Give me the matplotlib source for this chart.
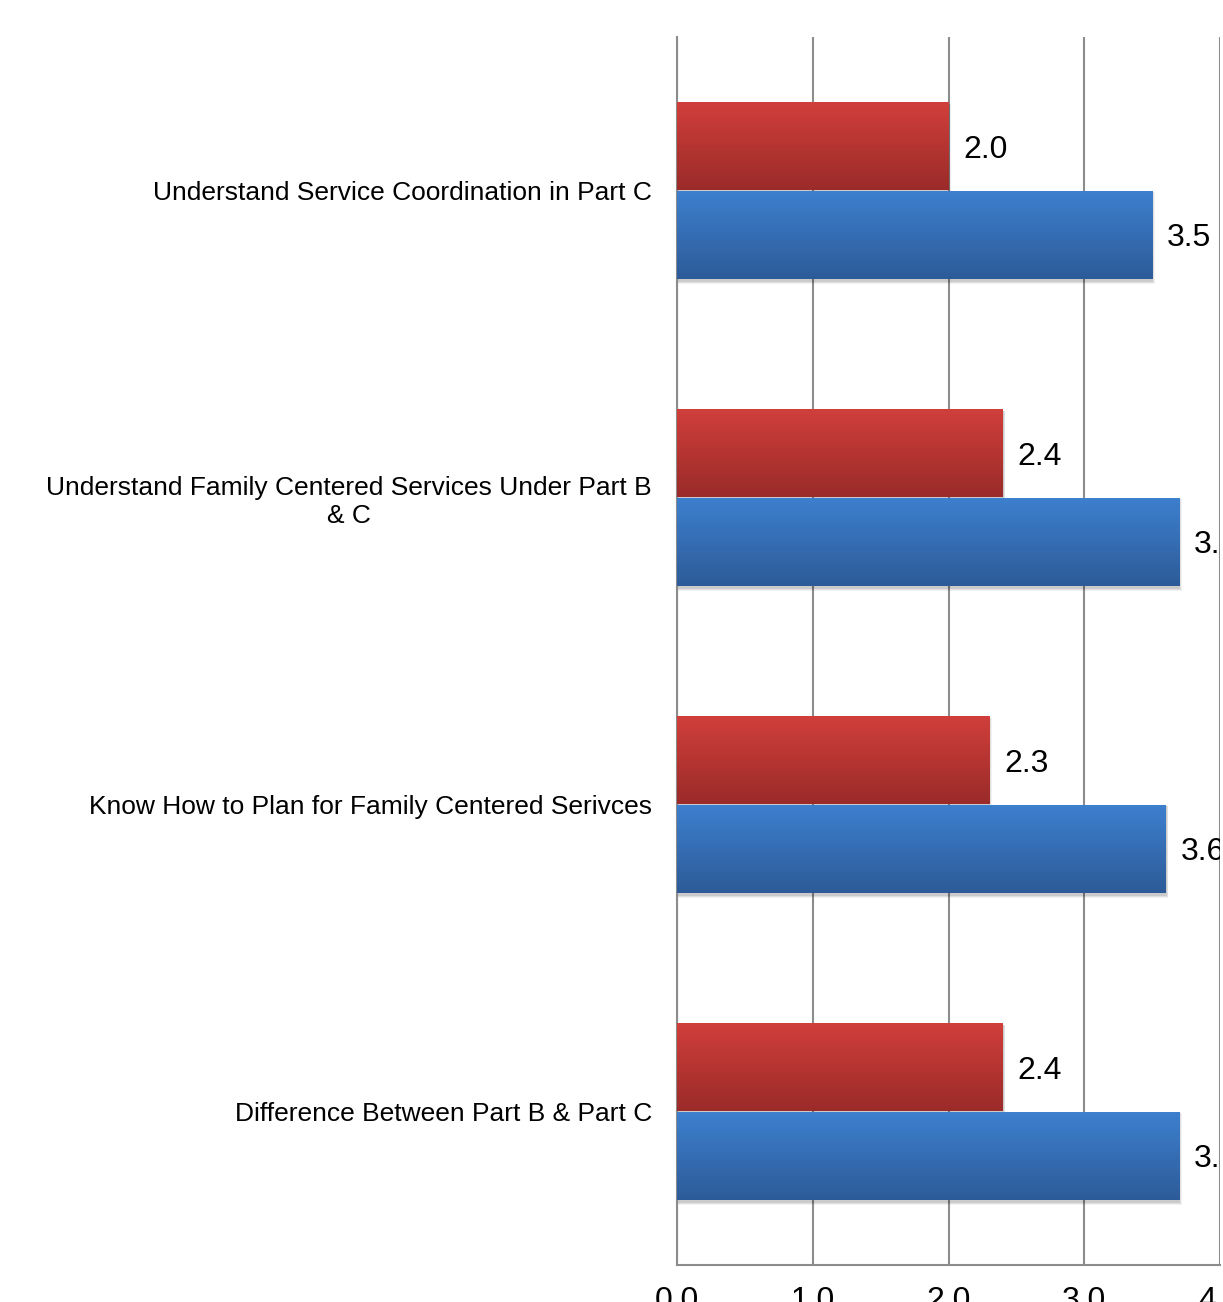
import numpy as np
import matplotlib.pyplot as plt
from matplotlib.colors import LinearSegmentedColormap
from matplotlib.patches import Rectangle

plt.rcParams['font.family'] = ['Liberation Sans', 'DejaVu Sans']

categories = [
    "Understand Service Coordination in Part C",
    "Understand Family Centered Services Under Part B\n& C",
    "Know How to Plan for Family Centered Serivces",
    "Difference Between Part B & Part C",
]
before = [2.0, 2.4, 2.3, 2.4]
after = [3.5, 3.7, 3.6, 3.7]
xticks = [0.0, 1.0, 2.0, 3.0, 4.0]

red_grad = LinearSegmentedColormap.from_list("red_grad", ["#d13f3b", "#9a2b29"])
blue_grad = LinearSegmentedColormap.from_list("blue_grad", ["#3d80cf", "#2d5b98"])

W, H = 1223, 1302
fig = plt.figure(figsize=(W / 100, H / 100), dpi=100)
ax = fig.add_axes([677 / W, 1 - 1265 / H, (1220 - 677) / W, (1265 - 37) / H])

y = np.arange(len(categories))
h = 0.287
grad = np.linspace(0, 1, 256).reshape(-1, 1)


def gradient_bars(values, offset, cmap):
    bars = ax.barh(y + offset, values, height=h, color='none', edgecolor='none', zorder=3)
    for b in bars:
        x0, y0, bw, bh = b.get_x(), b.get_y(), b.get_width(), b.get_height()
        # soft drop shadow on the right and lower edges
        for k, a in zip([0.035, 0.025, 0.015], [0.05, 0.07, 0.09]):
            sh = Rectangle((x0, y0 + 0.006), bw + k * 0.55, bh + k * 0.3,
                           facecolor='black', alpha=a, edgecolor='none', zorder=2)
            ax.add_patch(sh)
        im = ax.imshow(grad, cmap=cmap, aspect='auto', origin='upper',
                       extent=(x0, x0 + bw, y0 + bh, y0), zorder=3.5)
        im.set_clip_path(b)
    return bars


gradient_bars(before, -h / 2, red_grad)
gradient_bars(after, h / 2, blue_grad)

for i in range(len(categories)):
    ax.text(before[i] + 0.11, y[i] - h / 2, f"{before[i]:.1f}", va='center_baseline', ha='left',
            fontsize=23, clip_on=True, zorder=5)
    ax.text(after[i] + 0.11, y[i] + h / 2, f"{after[i]:.1f}", va='center_baseline', ha='left',
            fontsize=23, clip_on=True, zorder=5)

ax.set_xlim(0, 4)
ax.set_ylim(len(categories) - 0.5, -0.5)
ax.set_xticks(xticks)
ax.set_xticklabels([f"{t:.1f}" for t in xticks], fontsize=23)
ax.tick_params(axis='x', length=0, pad=15)
ax.set_yticks(y)
ax.set_yticklabels(categories, fontsize=19, multialignment='center')
ax.tick_params(axis='y', length=0, pad=18)

ax.grid(axis='x', color='#8c8c8c', linewidth=1.5, zorder=0)
ax.set_axisbelow(True)
for s in ['top', 'right']:
    ax.spines[s].set_visible(False)
for s in ['left', 'bottom']:
    ax.spines[s].set_color('#8c8c8c')
    ax.spines[s].set_linewidth(1.5)

fig.savefig('out.png', dpi=100)
